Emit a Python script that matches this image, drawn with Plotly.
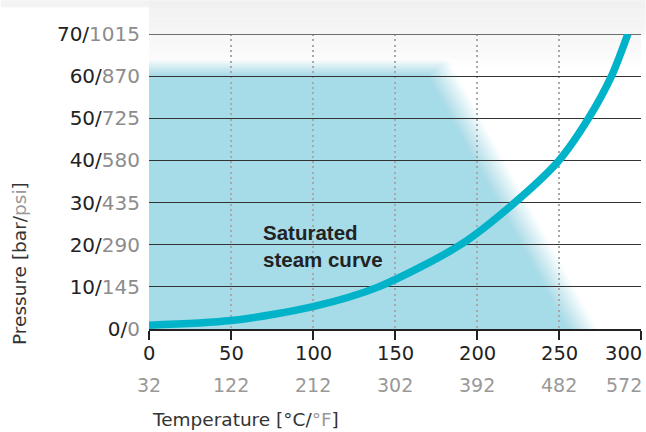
import plotly.graph_objects as go

# ---------------- data ----------------
temp_c_ticks = [0, 50, 100, 150, 200, 250, 300]
temp_f_labels = ["32", "122", "212", "302", "392", "482", "572"]
bar_ticks = [0, 10, 20, 30, 40, 50, 60, 70]
psi_labels = ["0", "145", "290", "435", "580", "725", "870", "1015"]

curve_temp = [0, 50, 100, 140, 190, 223, 250, 268, 282, 292]
curve_pres = [0.9, 2.0, 5.3, 10, 20, 30, 40, 50, 60, 70]

region_temp = [0, 0, 176, 264]
region_pres = [0, 62, 62, 0]

label_text = "Saturated<br>steam curve"
label_temp = 69.5
label_pres = 19.6

# ---------------- styling ----------------
W, H = 646, 432
ML, MR, MT, MB = 148.5, 4.5, 33.7, 103
PW, PH = W - ML - MR, H - MT - MB
XR, YR = [0, 300], [0, 70]
px_c = PW / (XR[1] - XR[0])
px_b = PH / (YR[1] - YR[0])

FILL = (165, 220, 232)
CURVE = "#00b3c9"
DARK = "#222222"
GRAY = "#8c8c8c"
TICKFONT = "DejaVu Sans"

fig = go.Figure()

fig.add_trace(go.Scatter(
    x=curve_temp, y=curve_pres, mode="lines",
    line=dict(color=CURVE, width=7.5, shape="spline", smoothing=0.8),
    hoverinfo="skip", showlegend=False,
))

shapes = []
# light gray top background (stepped fade)
bands = [("#f1f1f1", 0, 8), ("#f3f3f3", 8, 18), ("#f4f4f4", 18, 28), ("#f6f6f6", 28, MT)]
for colr, a, b in bands:
    shapes.append(dict(type="rect", xref="paper", yref="paper", x0=0, x1=1 + MR / PW,
                       y0=1 + (MT - b) / PH, y1=1 + (MT - a) / PH,
                       fillcolor=colr, line_width=0, layer="below"))
shapes.append(dict(type="rect", xref="paper", yref="paper", x0=-ML / PW, x1=0,
                   y0=1 + (MT - 7) / PH, y1=1 + MT / PH, fillcolor="#f3f3f3", line_width=0, layer="below"))
# soft fade inside the plot below the top line
inner = [("#f8f8f8", 67, 70), ("#f9f9f9", 65.5, 67), ("#fbfbfb", 64, 65.5), ("#fdfdfd", 62.5, 64)]
for colr, a, b in inner:
    shapes.append(dict(type="rect", xref="x", yref="y", x0=XR[0], x1=XR[1],
                       y0=a, y1=b, fillcolor=colr, line_width=0, layer="below"))

# blurred fill region built from the region arrays (alpha-composited layers)
top = region_pres[1]
corner = region_temp[2]
foot = region_temp[3]
slope = (foot - corner) / top  # degC per bar
N = 18
wx, wy = 15.0, 8.0  # blur half widths in px
for k in range(N):
    s = 1 - 2 * k / (N - 1)
    a = 1.0 / (N - k)
    dx = s * wx / px_c
    dy = s * wy / px_b
    ty = top + dy
    xt = foot + dx - ty * slope
    xb = foot + dx
    path = f"M {region_temp[0]},{region_pres[0]} L {region_temp[1]},{ty} L {xt},{ty} L {xb},{region_pres[3]} Z"
    shapes.append(dict(type="path", xref="x", yref="y", path=path,
                       fillcolor="rgba(%d,%d,%d,%.4f)" % (FILL + (a,)), line_width=0, layer="below"))

# gray top gridline
shapes.append(dict(type="line", xref="x", yref="y", x0=XR[0], x1=XR[1], y0=YR[1], y1=YR[1],
                   line=dict(color="#6e6e6e", width=2), layer="between"))

annotations = []
for i, (t, fl) in enumerate(zip(temp_c_ticks, temp_f_labels)):
    last = i == len(temp_c_ticks) - 1
    anc = "right" if last else "center"
    xs = (3 if last else 0)
    annotations.append(dict(x=t, xref="x", y=0, yref="paper", yshift=-24.7, xshift=xs,
                            text=str(t), showarrow=False, xanchor=anc, yanchor="middle",
                            font=dict(family=TICKFONT, size=19.5, color=DARK)))
    annotations.append(dict(x=t, xref="x", y=0, yref="paper", yshift=-56, xshift=xs,
                            text=fl, showarrow=False, xanchor=anc, yanchor="middle",
                            font=dict(family=TICKFONT, size=19, color="#999999")))

annotations.append(dict(x=0, xref="paper", y=0, yref="paper", xshift=1, yshift=-90,
                        text="Temperature [°C/<span style='color:#999999'>°F</span>]",
                        showarrow=False, xanchor="left", yanchor="middle",
                        font=dict(family=TICKFONT, size=18.5, color="#333333")))
annotations.append(dict(x=0, xref="paper", y=0, yref="paper", xshift=18.5 - ML, yshift=329 - 264 - 0,
                        text="Pressure [bar/<span style='color:#999999'>psi</span>]",
                        textangle=-90, showarrow=False, xanchor="center", yanchor="middle",
                        font=dict(family=TICKFONT, size=18.5, color="#333333")))
annotations.append(dict(x=label_temp, xref="x", y=label_pres, yref="y", xshift=-2,
                        text="<b>" + label_text + "</b>", showarrow=False,
                        xanchor="left", yanchor="middle", align="left",
                        font=dict(family="Liberation Sans", size=20.5, color=DARK)))

fig.update_layout(
    width=W, height=H,
    margin=dict(l=ML, r=MR, t=MT, b=MB, pad=0),
    paper_bgcolor="white", plot_bgcolor="white",
    showlegend=False,
    shapes=shapes, annotations=annotations,
    xaxis=dict(
        range=XR, tickmode="array", tickvals=temp_c_ticks,
        ticktext=["" for t in temp_c_ticks], automargin=False,
        ticks="outside", ticklen=9, tickwidth=2, tickcolor=DARK,
        showline=True, linecolor=DARK, linewidth=2,
        showgrid=True, gridcolor="#a8a8a8", gridwidth=2, griddash="2px,3.3px",
        zeroline=False, fixedrange=True,
    ),
    yaxis=dict(
        range=YR, tickmode="array", tickvals=bar_ticks, automargin=False,
        ticktext=[f"{b}/<span style='color:{GRAY}'>{p}</span>" for b, p in zip(bar_ticks, psi_labels)],
        tickfont=dict(family=TICKFONT, size=20, color=DARK),
        ticks="", ticklabelstandoff=8,
        showline=False, showgrid=True, gridcolor="#333333", gridwidth=1.3,
        zeroline=False, fixedrange=True,
    ),
)

fig.write_html("out.html", config={"displayModeBar": False},
               post_script="document.body.style.margin='0';document.body.style.overflow='hidden';")
